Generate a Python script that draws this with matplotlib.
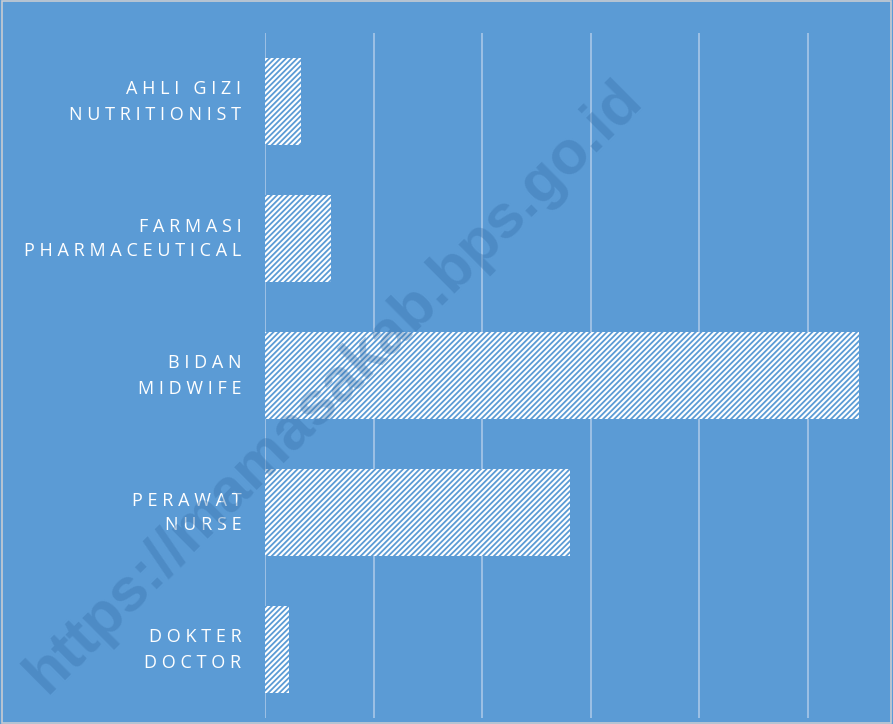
import matplotlib
matplotlib.use("Agg")
import matplotlib.pyplot as plt
import matplotlib.transforms as mtransforms
from matplotlib.patches import Rectangle

# Data (bottom to top)
labels_id = ["DOKTER", "PERAWAT", "BIDAN", "FARMASI", "AHLI GIZI"]
labels_en = ["DOCTOR", "NURSE", "MIDWIFE", "PHARMACEUTICAL", "NUTRITIONIST"]
values = [2.2, 28.1, 54.7, 6.1, 3.3]

BG = "#5B9BD5"
plt.rcParams["hatch.linewidth"] = 1.3
plt.rcParams["font.family"] = ["Open Sans", "DejaVu Sans"]


def spaced(s):
    # tracking-like letter spacing
    return "\u2009\u200a".join(s)


fig = plt.figure(figsize=(8.93, 7.24), dpi=100)
fig.patch.set_facecolor(BG)
ax = fig.add_axes([265 / 893, 6 / 724, 620 / 893, 685 / 724])
ax.set_facecolor(BG)

y = range(len(values))
ax.barh(y, values, height=0.63, color="white", edgecolor=BG,
        hatch="//////", linewidth=0, zorder=3)

ax.set_xlim(0, 57.1)
ax.set_ylim(-0.5, len(values) - 0.5)
ax.set_xticks(range(0, 60, 10))
ax.set_xticklabels([])
ax.tick_params(axis="x", length=0)
ax.grid(axis="x", color="#A2C3E6", linewidth=1.3, zorder=0)
ax.set_axisbelow(True)
for s in ax.spines.values():
    s.set_visible(False)

ax.set_yticks(list(y))
ax.set_yticklabels([spaced(a) + "\n" + spaced(b) for a, b in zip(labels_id, labels_en)],
                   color="white", fontsize=13, linespacing=1.5, ha="right")
ax.tick_params(axis="y", length=0, pad=17)
shift = mtransforms.ScaledTranslation(0, 0.05, fig.dpi_scale_trans)
for t in ax.get_yticklabels():
    t.set_transform(t.get_transform() + shift)

# watermark
fig.text(0.375, 0.465, "https://mamasakab.bps.go.id", rotation=44.8,
         fontsize=44, fontweight="bold", color="#3A74AE", alpha=0.4,
         ha="center", va="center", family=["Liberation Sans", "DejaVu Sans"])

# thin frame around the picture
fig.patches.append(Rectangle((0.002, 0.002), 0.996, 0.996, transform=fig.transFigure,
                             fill=False, edgecolor="#C8CCD2", linewidth=1.2))

fig.savefig("out.png", dpi=100, facecolor=BG)
